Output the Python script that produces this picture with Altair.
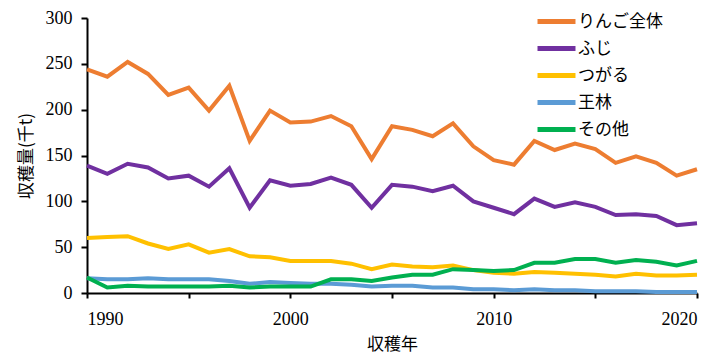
import altair as alt
import pandas as pd

years = list(range(1990, 2021))
series_names = ["りんご全体", "ふじ", "つがる", "王林", "その他"]
colors = ["#ED7D31", "#7030A0", "#FFC000", "#5B9BD5", "#00B050"]

apple_total = [244, 236, 252, 239, 216, 224, 199, 226, 166, 199, 186, 187, 193, 182, 146, 182,
               178, 171, 185, 160, 145, 140, 166, 156, 163, 157, 142, 149, 142, 128, 135]
fuji = [139, 130, 141, 137, 125, 128, 116, 136, 93, 123, 117, 119, 126, 118, 93, 118,
        116, 111, 117, 100, 93, 86, 103, 94, 99, 94, 85, 86, 84, 74, 76]
tsugaru = [60, 61, 62, 54, 48, 53, 44, 48, 40, 39, 35, 35, 35, 32, 26, 31,
           29, 28, 30, 25, 22, 21, 23, 22, 21, 20, 18, 21, 19, 19, 20]
orin = [16, 15, 15, 16, 15, 15, 15, 13, 10, 12, 11, 10, 10, 9, 7, 8,
        8, 6, 6, 4, 4, 3, 4, 3, 3, 2, 2, 2, 1, 1, 1]
others = [17, 6, 8, 7, 7, 7, 7, 8, 6, 7, 7, 7, 15, 15, 13, 17,
          20, 20, 26, 25, 24, 25, 33, 33, 37, 37, 33, 36, 34, 30, 35]

all_series = [apple_total, fuji, tsugaru, orin, others]
rows = []
for name, vals in zip(series_names, all_series):
    for y, v in zip(years, vals):
        rows.append({"年": y, "収穫量": v, "品種": name})
df = pd.DataFrame(rows)

num_font = "Liberation Serif"
jp_font = "Noto Sans CJK JP"

chart = alt.Chart(df).mark_line(strokeWidth=4).encode(
    x=alt.X("年:Q",
            scale=alt.Scale(domain=[1990, 2020], nice=False, zero=False),
            axis=alt.Axis(title="収穫年", values=list(range(1990, 2021, 5)),
                          labelExpr="datum.value % 10 == 0 ? datum.label : ''",
                          format="d", grid=False, tickSize=5, tickWidth=2,
                          domainWidth=2, domainColor="black", tickColor="black",
                          labelFont=num_font, labelFontSize=18, labelColor="black",
                          labelPadding=12, titleFont=jp_font, titleFontSize=17,
                          titleFontWeight="normal", titleColor="black", titlePadding=8)),
    y=alt.Y("収穫量:Q",
            scale=alt.Scale(domain=[0, 300], nice=False),
            axis=alt.Axis(title="収穫量(千t)", values=list(range(0, 301, 50)), grid=False,
                          tickSize=6, tickWidth=2, domainWidth=2, domainColor="black",
                          tickColor="black", labelFont=num_font, labelFontSize=18,
                          labelColor="black", labelPadding=9, titleFont=jp_font,
                          titleFontSize=17, titleFontWeight="normal", titleColor="black",
                          titlePadding=10)),
    color=alt.Color("品種:N",
                    scale=alt.Scale(domain=series_names, range=colors),
                    sort=series_names,
                    legend=alt.Legend(title=None, orient="none", legendX=453, legendY=-13,
                                      symbolType="M-1.36,0L1.36,0", symbolStrokeWidth=5,
                                      symbolSize=780, labelFont=jp_font,
                                      labelFontSize=17, labelColor="black",
                                      labelOffset=5, rowPadding=0)),
    order=alt.Order("order:Q"),
).transform_calculate(
    order="indexof(['その他','王林','つがる','ふじ','りんご全体'], datum['品種'])"
).properties(
    width=610, height=275,
    padding={"left": 79, "top": 10, "right": 23, "bottom": 60},
    autosize=alt.AutoSizeParams(type="none"),
).configure_view(stroke=None)

chart.save("out.html", embed_options={"renderer": "svg", "actions": False})
